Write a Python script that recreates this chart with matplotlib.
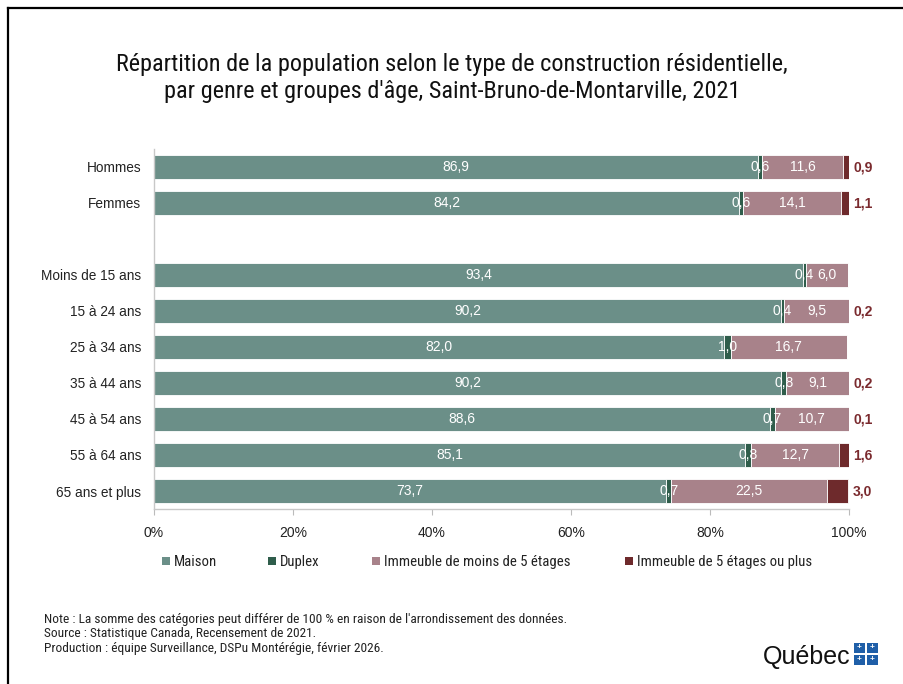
import matplotlib
matplotlib.use("Agg")
import matplotlib.pyplot as plt
from matplotlib.patches import Rectangle, Patch
from matplotlib.lines import Line2D
from matplotlib import font_manager as fm
import numpy as np

categories = ["Hommes", "Femmes", "Moins de 15 ans", "15 à 24 ans", "25 à 34 ans",
              "35 à 44 ans", "45 à 54 ans", "55 à 64 ans", "65 ans et plus"]
maison = [86.9, 84.2, 93.4, 90.2, 82.0, 90.2, 88.6, 85.1, 73.7]
duplex = [0.6, 0.6, 0.4, 0.4, 1.0, 0.8, 0.7, 0.8, 0.7]
imm_moins5 = [11.6, 14.1, 6.0, 9.5, 16.7, 9.1, 10.7, 12.7, 22.5]
imm_5plus = [0.9, 1.1, 0.0, 0.2, 0.0, 0.2, 0.1, 1.6, 3.0]
series_names = ["Maison", "Duplex", "Immeuble de moins de 5 étages", "Immeuble de 5 étages ou plus"]
colors = ["#6B8F88", "#2F5D4B", "#A8828A", "#6E2A2C"]
xticks = [0, 20, 40, 60, 80, 100]

title = ("Répartition de la population selon le type de construction résidentielle,\n"
         "par genre et groupes d'âge, Saint-Bruno-de-Montarville, 2021")
notes = ("Note : La somme des catégories peut différer de 100 % en raison de l'arrondissement des données.\n"
         "Source : Statistique Canada, Recensement de 2021.\n"
         "Production : équipe Surveillance, DSPu Montérégie, février 2026.")

# pick a condensed font if one is installed
names = {f.name for f in fm.fontManager.ttflist}
narrow_fp = None
for cand in ["Liberation Sans Narrow", "Roboto Condensed", "Open Sans Condensed",
             "Noto Sans Condensed", "DejaVu Sans Condensed"]:
    if cand in names:
        narrow_fp = dict(family=[cand, "DejaVu Sans"])
        break
if narrow_fp is None:
    path = fm.findfont(fm.FontProperties(family="DejaVu Sans", stretch="condensed"))
    if "Condensed" in path:
        narrow_fp = dict(family=["DejaVu Sans"], fontstretch="condensed")
        scale = 0.95
    else:
        narrow_fp = dict(family=["Liberation Sans", "DejaVu Sans"])
        scale = 0.88
else:
    scale = 1.0
sans = ["Liberation Sans", "DejaVu Sans"]

W, H = 904, 684
fig = plt.figure(figsize=(W / 100, H / 100), dpi=100)
fig.patch.set_facecolor("white")

ax = fig.add_axes([154 / W, 1 - 509 / H, (849 - 154) / W, (509 - 149) / H])

# positions: a blank slot between the gender rows and age rows
ypos = np.array([0, 1, 3, 4, 5, 6, 7, 8, 9])
bar_h = 0.68
data = [np.array(maison), np.array(duplex), np.array(imm_moins5), np.array(imm_5plus)]
left = np.zeros(len(categories))
bars = []
for vals, col, name in zip(data, colors, series_names):
    b = ax.barh(ypos, vals, left=left, height=bar_h, color=col, edgecolor="white",
                linewidth=0.6, label=name)
    bars.append((b, vals.copy(), left.copy()))
    left = left + vals

def fmt(v):
    return f"{v:.1f}".replace(".", ",")

for idx in range(3):
    b, vals, lf = bars[idx]
    for y, v, l in zip(ypos, vals, lf):
        ax.text(l + v / 2, y, fmt(v), ha="center", va="center", color="white",
                fontsize=10, family=sans)
b, vals, lf = bars[3]
for y, v in zip(ypos, vals):
    if v > 0:
        ax.annotate(fmt(v), xy=(100, y), xytext=(3, 0), textcoords="offset points",
                    ha="left", va="center", color="#7A2A2E", fontsize=10,
                    fontweight="bold", family=sans)

ax.set_xlim(0, 100)
ax.set_ylim(9.5, -0.5)
ax.set_yticks(ypos)
ax.set_yticklabels(categories, family=sans, fontsize=9.8, color="#222222")
ax.set_xticks(xticks)
ax.set_xticklabels([f"{t}%" for t in xticks], family=sans, fontsize=10, color="#222222")
ax.tick_params(axis="y", length=0, pad=9)
ax.tick_params(axis="x", length=4, color="#BBBBBB", pad=8, direction="out")
for s in ["top", "right"]:
    ax.spines[s].set_visible(False)
for s in ["left", "bottom"]:
    ax.spines[s].set_color("#C8C8C8")
    ax.spines[s].set_linewidth(1.0)

fig.text(0.5, 1 - 78 / H, title, ha="center", va="center", fontsize=17.5 * scale,
         color="#111111", linespacing=1.18, **narrow_fp)

leg_x = [162, 268, 372, 625]
for name, col, lx in zip(series_names, colors, leg_x):
    h = Patch(facecolor=col, edgecolor="none")
    lg = fig.legend(handles=[h], labels=[name], loc="center left",
                    bbox_to_anchor=(lx / W, 1 - 562 / H), frameon=False,
                    handlelength=0.55, handleheight=0.55, handletextpad=0.3,
                    borderpad=0, borderaxespad=0)
    for t in lg.get_texts():
        t.set_color("#222222")
        t.set_fontsize(10.6 * scale)
        t.set_family(narrow_fp["family"])
        if "fontstretch" in narrow_fp:
            t.set_fontstretch(narrow_fp["fontstretch"])

fig.text(44 / W, 1 - 613 / H, notes, ha="left", va="top", fontsize=9.6 * scale,
         color="#222222", linespacing=1.15, **narrow_fp)

fig.text(851 / W, 1 - 657 / H, "Québec", ha="right", va="center", fontsize=18,
         family=sans, color="#111111")
for cx, cy in [(854, 643), (867, 643), (854, 655), (867, 655)]:
    fig.patches.append(Rectangle((cx / W, 1 - (cy + 10) / H), 11 / W, 10 / H,
                                 transform=fig.transFigure, facecolor="#1F5FA8",
                                 edgecolor="none"))
    fig.text((cx + 5.5) / W, 1 - (cy + 5) / H, "+", ha="center", va="center",
             fontsize=6, color="white", family=sans, fontweight="bold")

fig.add_artist(Line2D([8 / W, 8 / W], [0, 1 - 8 / H], transform=fig.transFigure,
                      color="black", linewidth=1.6))
fig.add_artist(Line2D([8 / W, 1], [1 - 8 / H, 1 - 8 / H], transform=fig.transFigure,
                      color="black", linewidth=1.6))

fig.savefig("out.png", dpi=100, facecolor="white")
